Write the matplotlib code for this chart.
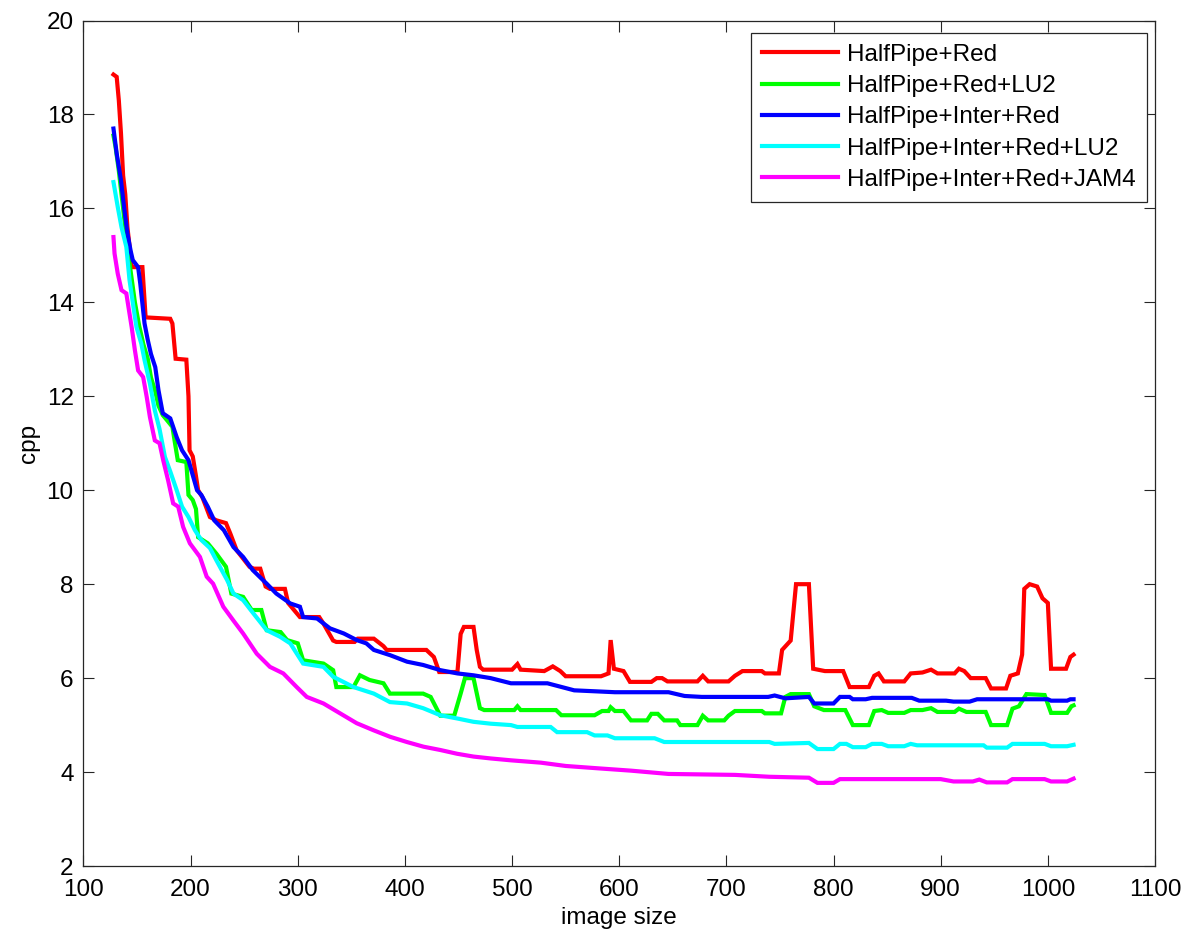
import matplotlib
matplotlib.use("Agg")
import matplotlib.pyplot as plt

plt.rcParams['font.family'] = ['Liberation Sans', 'DejaVu Sans']

labels = ["HalfPipe+Red", "HalfPipe+Red+LU2", "HalfPipe+Inter+Red",
          "HalfPipe+Inter+Red+LU2", "HalfPipe+Inter+Red+JAM4"]
colors = ["#ff0000", "#00ff00", "#0000ff", "#00ffff", "#ff00ff"]

red_x = [128, 131, 133, 135, 137, 139, 141, 143, 145, 155, 158, 181, 183, 186, 196, 198, 199, 202, 205, 207,
         211, 218, 224, 233, 237, 243, 255, 259, 265, 270, 274, 288, 291, 302, 320, 324, 333, 336, 353, 356,
         371, 380, 383, 420, 427, 432, 449, 452, 455, 464, 467, 470, 473, 500, 505, 508, 530, 538, 545, 550,
         583, 590, 592, 595, 604, 610, 630, 635, 640, 645, 673, 678, 683, 702, 708, 715, 733, 736, 749, 752,
         756, 760, 765, 777, 781, 792, 809, 815, 833, 838, 842, 847, 866, 872, 883, 891, 897, 913, 917, 922,
         928, 942, 947, 961, 965, 972, 976, 978, 983, 990, 995, 1000, 1003, 1017, 1021, 1024]
red_y = [18.85, 18.8, 18.3, 17.6, 16.7, 16.3, 15.6, 15.2, 14.75, 14.75, 13.68, 13.65, 13.55, 12.8, 12.78, 12.0,
         10.85, 10.72, 10.3, 10.0, 9.85, 9.43, 9.36, 9.3, 9.08, 8.72, 8.37, 8.33, 8.33, 7.95, 7.9, 7.9, 7.6,
         7.3, 7.3, 7.16, 6.8, 6.77, 6.77, 6.84, 6.84, 6.68, 6.6, 6.6, 6.45, 6.13, 6.13, 6.94, 7.09, 7.09, 6.6,
         6.24, 6.18, 6.18, 6.3, 6.18, 6.15, 6.25, 6.15, 6.04, 6.04, 6.1, 6.81, 6.2, 6.15, 5.92, 5.92, 6.0, 6.0,
         5.93, 5.93, 6.05, 5.93, 5.93, 6.05, 6.15, 6.15, 6.1, 6.1, 6.6, 6.7, 6.8, 8.0, 8.0, 6.2, 6.15, 6.15,
         5.81, 5.81, 6.05, 6.1, 5.93, 5.93, 6.1, 6.12, 6.18, 6.1, 6.1, 6.2, 6.15, 6.0, 6.0, 5.78, 5.78, 6.05,
         6.1, 6.5, 7.9, 8.0, 7.95, 7.7, 7.6, 6.2, 6.2, 6.45, 6.5]

green_x = [128, 130, 133, 136, 139, 142, 145, 148, 152, 156, 160, 163, 167, 170, 174, 178, 183, 185, 188, 196,
           198, 202, 205, 207, 216, 224, 233, 238, 249, 257, 266, 271, 284, 290, 300, 305, 324, 333, 336, 352,
           358, 367, 380, 386, 417, 424, 433, 446, 452, 456, 464, 470, 474, 502, 505, 508, 541, 546, 577, 584,
           590, 592, 596, 604, 611, 626, 630, 636, 642, 654, 657, 673, 678, 683, 698, 702, 708, 733, 736, 751,
           755, 760, 777, 782, 791, 811, 818, 833, 838, 845, 851, 866, 872, 883, 891, 897, 913, 917, 924, 942,
           947, 962, 967, 973, 980, 997, 1003, 1018, 1022, 1024]
green_y = [17.55, 17.3, 16.8, 16.2, 15.6, 15.0, 14.5, 14.0, 13.5, 13.1, 12.8, 12.4, 12.1, 11.8, 11.6, 11.49,
           11.35, 11.06, 10.64, 10.6, 9.9, 9.79, 9.6, 9.0, 8.87, 8.65, 8.37, 7.8, 7.73, 7.45, 7.45, 7.02, 6.98,
           6.81, 6.74, 6.38, 6.31, 6.17, 5.81, 5.81, 6.06, 5.96, 5.89, 5.67, 5.67, 5.6, 5.2, 5.2, 5.67, 6.0, 6.0,
           5.36, 5.32, 5.32, 5.4, 5.32, 5.32, 5.21, 5.21, 5.3, 5.3, 5.38, 5.3, 5.3, 5.1, 5.1, 5.24, 5.24, 5.1,
           5.1, 5.0, 5.0, 5.2, 5.1, 5.1, 5.2, 5.3, 5.3, 5.25, 5.25, 5.6, 5.66, 5.66, 5.4, 5.32, 5.32, 5.0, 5.0,
           5.3, 5.32, 5.26, 5.26, 5.32, 5.32, 5.36, 5.28, 5.28, 5.35, 5.28, 5.28, 5.0, 5.0, 5.35, 5.4, 5.66,
           5.64, 5.26, 5.26, 5.4, 5.42]

blue_x = [128, 131, 135, 138, 141, 144, 146, 151, 153, 157, 160, 163, 167, 170, 174, 181, 187, 192, 198, 206,
          210, 216, 222, 231, 240, 249, 258, 271, 280, 293, 302, 305, 318, 330, 343, 355, 364, 371, 386, 402,
          417, 433, 449, 464, 480, 499, 533, 558, 596, 646, 661, 677, 739, 745, 755, 777, 782, 800, 806, 815,
          818, 830, 836, 873, 880, 905, 912, 927, 934, 1000, 1003, 1018, 1021, 1024]
blue_y = [17.7, 17.17, 16.6, 16.0, 15.47, 15.1, 14.9, 14.75, 14.4, 13.55, 13.2, 12.9, 12.62, 12.13, 11.64,
          11.53, 11.13, 10.85, 10.64, 10.0, 9.9, 9.65, 9.36, 9.15, 8.79, 8.58, 8.3, 8.01, 7.8, 7.59, 7.52, 7.3,
          7.27, 7.06, 6.95, 6.81, 6.74, 6.6, 6.49, 6.35, 6.28, 6.17, 6.1, 6.06, 6.0, 5.89, 5.89, 5.74, 5.7, 5.7,
          5.62, 5.6, 5.6, 5.63, 5.57, 5.6, 5.46, 5.46, 5.6, 5.6, 5.55, 5.55, 5.58, 5.58, 5.52, 5.52, 5.5, 5.5,
          5.55, 5.55, 5.52, 5.52, 5.55, 5.55]

cyan_x = [128, 132, 135.5, 140, 143, 148, 149.5, 154, 157, 162, 166.6, 171, 176, 181, 187, 192, 198, 204, 210,
          218, 224, 234, 240, 249, 258.5, 271, 283.5, 293, 305, 324, 333, 352, 371, 386, 402, 417, 433, 449,
          464, 480, 499, 505, 536, 542, 570, 577, 589, 596, 633, 642, 740, 745, 777, 785, 800, 806, 812, 818,
          830, 836, 845, 851, 866, 872, 878, 940, 943, 962, 967, 997, 1003, 1018, 1024]
cyan_y = [16.56, 16.03, 15.6, 15.18, 14.47, 13.69, 13.47, 13.12, 12.77, 12.27, 11.7, 11.3, 10.71, 10.4, 10.0,
          9.65, 9.43, 9.15, 8.94, 8.77, 8.51, 8.09, 7.8, 7.66, 7.38, 7.02, 6.88, 6.74, 6.31, 6.24, 6.03, 5.81,
          5.67, 5.49, 5.46, 5.36, 5.21, 5.14, 5.07, 5.03, 5.0, 4.96, 4.96, 4.85, 4.85, 4.78, 4.78, 4.72, 4.72,
          4.64, 4.64, 4.6, 4.62, 4.49, 4.49, 4.6, 4.6, 4.53, 4.53, 4.6, 4.6, 4.55, 4.55, 4.6, 4.57, 4.57, 4.52,
          4.52, 4.6, 4.6, 4.55, 4.55, 4.58]

magenta_x = [128, 129, 132, 135.5, 140, 142, 145, 148, 151, 155.7, 159, 162, 166.6, 171, 174.4, 179, 183.7,
             188.4, 193, 199.3, 208.7, 215, 221, 230.5, 239.8, 249, 261.7, 274, 286.5, 299, 308.4, 324, 339.5,
             355, 370.7, 386.3, 401.8, 417.4, 433, 448.6, 464, 480, 499, 527, 550, 580, 611, 646, 708, 740,
             777, 785, 800, 806, 900, 912, 930, 936, 943, 962, 967, 997, 1003, 1018, 1024]
magenta_y = [15.39, 15.04, 14.61, 14.26, 14.19, 13.9, 13.47, 12.98, 12.55, 12.41, 11.99, 11.56, 11.06, 11.0,
             10.64, 10.21, 9.72, 9.65, 9.22, 8.87, 8.58, 8.16, 8.01, 7.52, 7.23, 6.95, 6.52, 6.24, 6.1, 5.81,
             5.6, 5.46, 5.25, 5.04, 4.89, 4.75, 4.64, 4.54, 4.47, 4.39, 4.33, 4.29, 4.25, 4.2, 4.13, 4.08, 4.03,
             3.96, 3.94, 3.9, 3.88, 3.77, 3.77, 3.85, 3.85, 3.8, 3.8, 3.84, 3.78, 3.78, 3.85, 3.85, 3.8, 3.8, 3.86]

series = [(red_x, red_y), (green_x, green_y), (blue_x, blue_y), (cyan_x, cyan_y), (magenta_x, magenta_y)]

fig = plt.figure(figsize=(11.89, 9.33), dpi=100)
ax = fig.add_axes([0.0702, 0.0718, 0.9012, 0.9062])

for (xs, ys), c, lab in zip(series, colors, labels):
    ax.plot(xs, ys, color=c, lw=3.0, label=lab, solid_joinstyle='miter')

ax.set_xlim(100, 1100)
ax.set_ylim(2, 20)
ax.set_xticks(range(100, 1101, 100))
ax.set_yticks(range(2, 21, 2))
ax.tick_params(direction='in', length=8, width=0.8, top=True, right=True,
               labelsize=17.5, pad=7, colors='#262626', labelcolor='black')
ax.tick_params(axis='x', pad=9)
for s in ax.spines.values():
    s.set_linewidth(0.9)
    s.set_color('#262626')
ax.set_xlabel("image size", fontsize=17.5, labelpad=5)
ax.set_ylabel("cpp", fontsize=17.5, labelpad=5)

leg = ax.legend(loc='upper right', bbox_to_anchor=(0.9925, 0.9852), borderaxespad=0,
                fontsize=17.5, handlelength=3.1, handletextpad=0.4, labelspacing=0.38,
                borderpad=0.45, fancybox=False, framealpha=1, edgecolor='#262626')
leg.get_frame().set_linewidth(0.9)

fig.savefig("out.png", dpi=100)
